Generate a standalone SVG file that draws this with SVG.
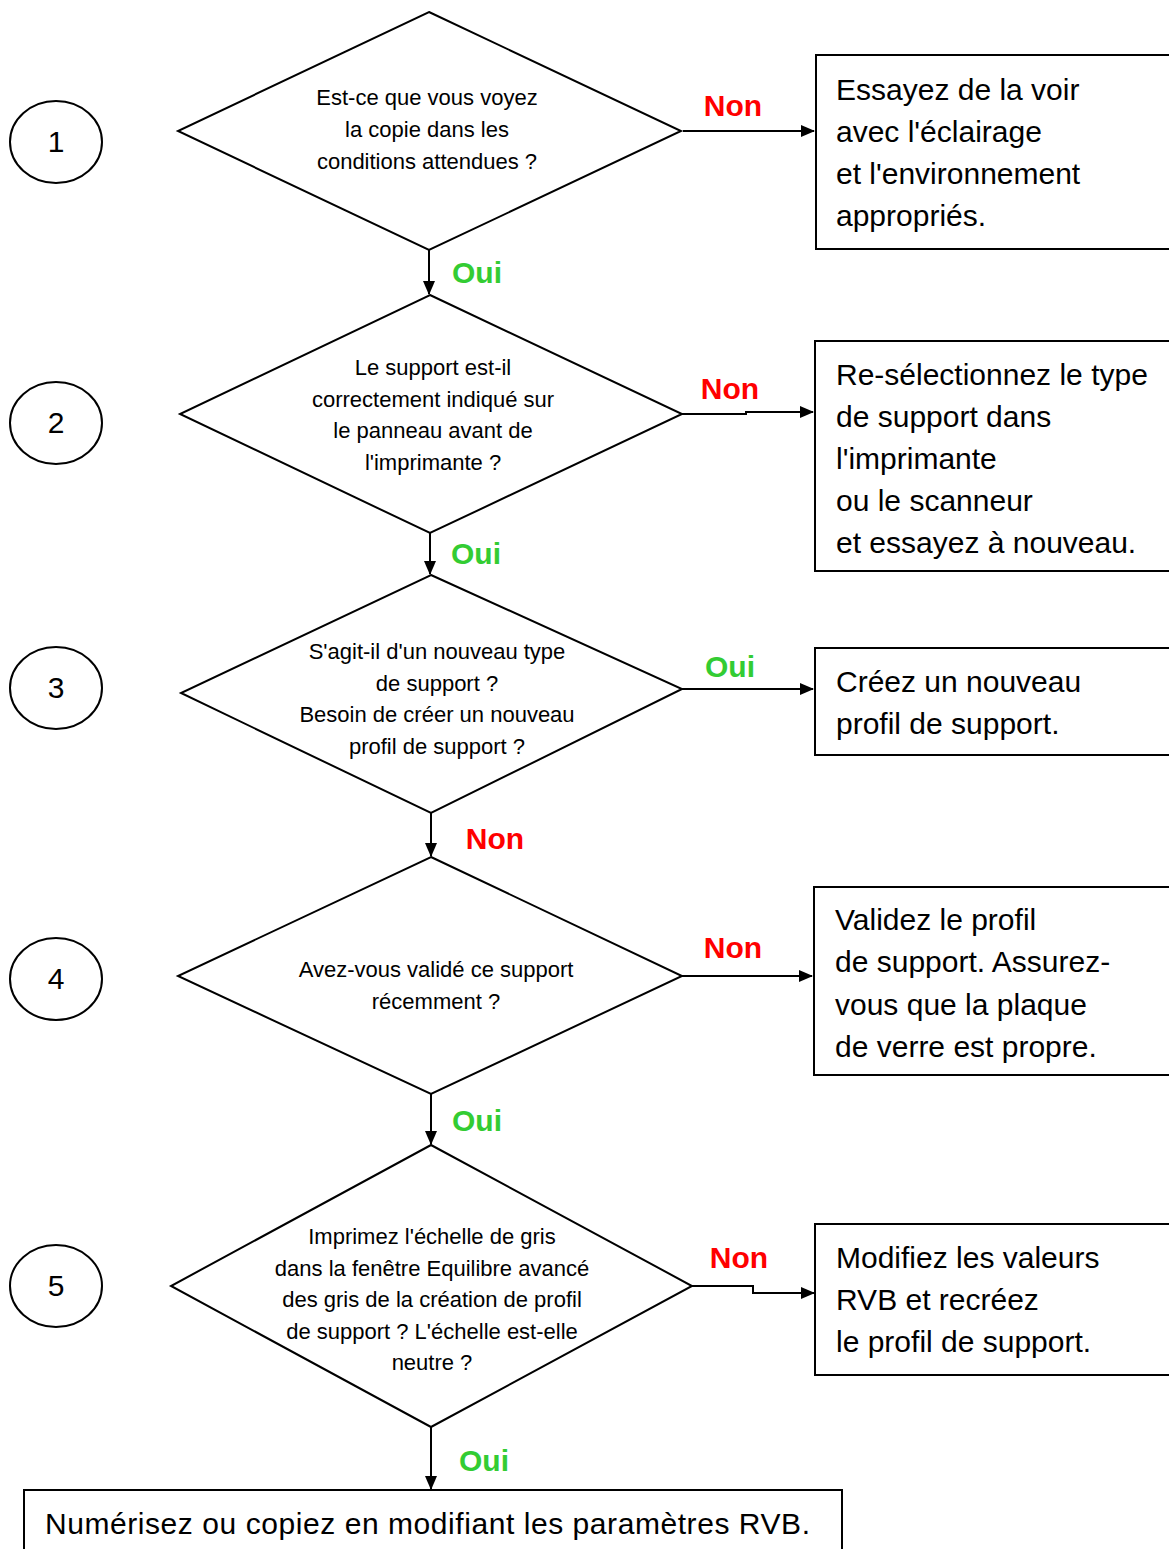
<svg xmlns="http://www.w3.org/2000/svg" width="1169" height="1549" viewBox="0 0 1169 1549">
<defs>
<marker id="ah" markerWidth="14" markerHeight="12" refX="13" refY="6" orient="auto" markerUnits="userSpaceOnUse"><path d="M0,0 L14,6 L0,12 z" fill="#000"/></marker>
<style>
.shape{fill:#fff;stroke:#000;stroke-width:2}
.conn{fill:none;stroke:#000;stroke-width:2;marker-end:url(#ah)}
.q{font-family:"Liberation Sans",Arial,sans-serif;font-size:22px;text-anchor:middle;fill:#000}
.b{font-family:"Liberation Sans",Arial,sans-serif;font-size:30px;fill:#000}
.n{font-family:"Liberation Sans",Arial,sans-serif;font-size:30px;text-anchor:middle;fill:#000}
.non{font-family:"Liberation Sans",Arial,sans-serif;font-size:30px;font-weight:bold;fill:#ff0000;text-anchor:middle}
.oui{font-family:"Liberation Sans",Arial,sans-serif;font-size:30px;font-weight:bold;fill:#33cc33;text-anchor:middle}
</style>
</defs>
<rect width="1169" height="1549" fill="#fff"/>

<g id="connectors">
<path class="conn" d="M683,131 L814,131"/>
<path class="conn" d="M429,250 L429,294"/>
<path class="conn" d="M682,414 L746,414 L746,412 L813,412"/>
<path class="conn" d="M430,533 L430,574"/>
<path class="conn" d="M682,689 L813,689"/>
<path class="conn" d="M431,813 L431,856"/>
<path class="conn" d="M682,976 L812,976"/>
<path class="conn" d="M431,1094 L431,1144"/>
<path class="conn" d="M692,1286 L753,1286 L753,1293 L814,1293"/>
<path class="conn" d="M431,1427 L431,1489"/>
<text class="non" x="733" y="116">Non</text>
<text class="oui" x="477" y="283">Oui</text>
<text class="non" x="730" y="399">Non</text>
<text class="oui" x="476" y="564">Oui</text>
<text class="oui" x="730" y="677">Oui</text>
<text class="non" x="495" y="849">Non</text>
<text class="non" x="733" y="958">Non</text>
<text class="oui" x="477" y="1131">Oui</text>
<text class="non" x="739" y="1268">Non</text>
<text class="oui" x="484" y="1471">Oui</text>
</g>

<g id="step1"><ellipse class="shape" cx="56" cy="142" rx="46" ry="41"/><text class="n" x="56" y="152">1</text></g>
<g id="step2"><ellipse class="shape" cx="56" cy="423" rx="46" ry="41"/><text class="n" x="56" y="433">2</text></g>
<g id="step3"><ellipse class="shape" cx="56" cy="688" rx="46" ry="41"/><text class="n" x="56" y="698">3</text></g>
<g id="step4"><ellipse class="shape" cx="56" cy="979" rx="46" ry="41"/><text class="n" x="56" y="989">4</text></g>
<g id="step5"><ellipse class="shape" cx="56" cy="1286" rx="46" ry="41"/><text class="n" x="56" y="1296">5</text></g>

<g id="q1"><polygon class="shape" points="429,12 681,131 429,250 178,131"/>
<text class="q" x="427" y="105">Est-ce que vous voyez</text>
<text class="q" x="427" y="137">la copie dans les</text>
<text class="q" x="427" y="169">conditions attendues ?</text></g>

<g id="q2"><polygon class="shape" points="430,295 682,414 430,533 180,414"/>
<text class="q" x="433" y="375">Le support est-il</text>
<text class="q" x="433" y="407">correctement indiqué sur</text>
<text class="q" x="433" y="438">le panneau avant de</text>
<text class="q" x="433" y="470">l'imprimante ?</text></g>

<g id="q3"><polygon class="shape" points="431,575 682,689 431,813 181,693"/>
<text class="q" x="437" y="659">S'agit-il d'un nouveau type</text>
<text class="q" x="437" y="691">de support ?</text>
<text class="q" x="437" y="722">Besoin de créer un nouveau</text>
<text class="q" x="437" y="754">profil de support ?</text></g>

<g id="q4"><polygon class="shape" points="431,857 682,976 431,1094 178,976"/>
<text class="q" x="436" y="977">Avez-vous validé ce support</text>
<text class="q" x="436" y="1009">récemment ?</text></g>

<g id="q5"><polygon class="shape" points="431,1145 692,1286 431,1427 171,1286"/>
<text class="q" x="432" y="1244">Imprimez l'échelle de gris</text>
<text class="q" x="432" y="1276">dans la fenêtre Equilibre avancé</text>
<text class="q" x="432" y="1307">des gris de la création de profil</text>
<text class="q" x="432" y="1339">de support ? L'échelle est-elle</text>
<text class="q" x="432" y="1370">neutre ?</text></g>

<g id="a1"><rect class="shape" x="816" y="55" width="370" height="194"/>
<text class="b" x="836" y="100">Essayez de la voir</text>
<text class="b" x="836" y="142">avec l'éclairage</text>
<text class="b" x="836" y="184">et l'environnement</text>
<text class="b" x="836" y="226">appropriés.</text></g>

<g id="a2"><rect class="shape" x="815" y="341" width="370" height="230"/>
<text class="b" x="836" y="385">Re-sélectionnez le type</text>
<text class="b" x="836" y="427">de support dans</text>
<text class="b" x="836" y="469">l'imprimante</text>
<text class="b" x="836" y="511">ou le scanneur</text>
<text class="b" x="836" y="553">et essayez à nouveau.</text></g>

<g id="a3"><rect class="shape" x="815" y="648" width="370" height="107"/>
<text class="b" x="836" y="692">Créez un nouveau</text>
<text class="b" x="836" y="734">profil de support.</text></g>

<g id="a4"><rect class="shape" x="814" y="887" width="370" height="188"/>
<text class="b" x="835" y="930">Validez le profil</text>
<text class="b" x="835" y="972">de support. Assurez-</text>
<text class="b" x="835" y="1015">vous que la plaque</text>
<text class="b" x="835" y="1057">de verre est propre.</text></g>

<g id="a5"><rect class="shape" x="815" y="1224" width="370" height="151"/>
<text class="b" x="836" y="1268">Modifiez les valeurs</text>
<text class="b" x="836" y="1310">RVB et recréez</text>
<text class="b" x="836" y="1352">le profil de support.</text></g>

<g id="end"><rect class="shape" x="24" y="1490" width="818" height="80"/>
<text class="b" x="45" y="1534" textLength="765" lengthAdjust="spacing">Numérisez ou copiez en modifiant les paramètres RVB.</text></g>
</svg>
